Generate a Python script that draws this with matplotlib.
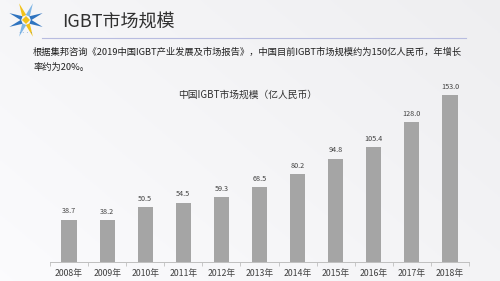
import numpy as np
import matplotlib
matplotlib.use("Agg")
import matplotlib.pyplot as plt
from matplotlib.patches import Polygon

plt.rcParams['font.family'] = ['Noto Sans CJK SC', 'DejaVu Sans']

# Data
years = ['2008年', '2009年', '2010年', '2011年', '2012年', '2013年',
         '2014年', '2015年', '2016年', '2017年', '2018年']
market = [38.7, 38.2, 50.5, 54.5, 59.3, 68.5, 80.2, 94.8, 105.4, 128.0, 153.0]

title = 'IGBT市场规模'
para1 = '根据集邦咨询《2019中国IGBT产业发展及市场报告》，中国目前IGBT市场规模约为150亿人民币，年增长'
para2 = '率约为20%。'
chart_title = '中国IGBT市场规模（亿人民币）'

W, H = 500, 281
fig = plt.figure(figsize=(W / 100, H / 100), dpi=100)

# Background gradient (light grey/white slide)
bg = fig.add_axes([0, 0, 1, 1], zorder=-10)
gx = np.linspace(0, 1, 200)
gy = np.linspace(0, 1, 120)
GX, GY = np.meshgrid(gx, gy)
shade = 0.985 - 0.05 * (GX * 0.6 + (1 - GY) * 0.4)
img = np.dstack([shade, shade, shade + 0.008])
bg.imshow(np.clip(img, 0, 1), extent=[0, W, H, 0], aspect='auto')
bg.set_xlim(0, W)
bg.set_ylim(H, 0)
bg.axis('off')

# Logo (rough star shape)
cx, cy = 26, 20
for k in range(8):
    ang = np.pi / 4 * k + np.pi / 8
    r1, r2 = 18, 5
    pts = [(cx + r2 * np.cos(ang - 0.45), cy + r2 * np.sin(ang - 0.45)),
           (cx + r1 * np.cos(ang), cy + r1 * np.sin(ang)),
           (cx + r2 * np.cos(ang + 0.45), cy + r2 * np.sin(ang + 0.45))]
    col = ['#2f74c0', '#f2c21b', '#7fb6e6', '#2f74c0'][k % 4]
    bg.add_patch(Polygon(pts, closed=True, color=col, lw=0))
bg.add_patch(Polygon([(cx - 4, cy), (cx, cy - 4), (cx + 4, cy), (cx, cy + 4)],
                     closed=True, color='#f2c21b', lw=0))
bg.text(cx, 33, '••••', fontsize=3, color='#3a7dc9', ha='center', va='center')

# Header
bg.text(62, 22, title, fontsize=13, color='#303030', ha='left', va='center')
bg.plot([42, 466], [37.5, 37.5], color='#b8bce0', lw=0.8)
bg.text(33, 52, para1, fontsize=6.7, color='#202020', ha='left', va='center')
bg.text(33, 67, para2, fontsize=6.7, color='#202020', ha='left', va='center')

# Bar chart
ax = fig.add_axes([50 / W, 1 - 262 / H, 419 / W, 167 / H])
ax.patch.set_alpha(0)
x = np.arange(len(years))
bars = ax.bar(x, market, width=0.4, color='#a5a5a5')
for xi, v in zip(x, market):
    ax.text(xi, v + 4, f'{v:.1f}', ha='center', va='bottom', fontsize=5.2, color='#404040')
ax.set_xlim(-0.5, len(years) - 0.5)
ax.set_ylim(0, 153)
ax.set_xticks(np.arange(-0.5, len(years), 1))
ax.set_xticklabels([])
ax.set_xticks(x, minor=True)
ax.set_xticklabels(years, minor=True, fontsize=6.3, color='#404040')
ax.tick_params(axis='x', which='major', length=3, color='#bfbfbf', width=0.6)
ax.tick_params(axis='x', which='minor', length=0, pad=5)
ax.set_yticks([])
for s in ['top', 'right', 'left']:
    ax.spines[s].set_visible(False)
ax.spines['bottom'].set_color('#bfbfbf')
ax.spines['bottom'].set_linewidth(0.7)

bg.text(248, 95, chart_title, fontsize=7, color='#303030', ha='center', va='center')

fig.savefig('out.png', dpi=100)
